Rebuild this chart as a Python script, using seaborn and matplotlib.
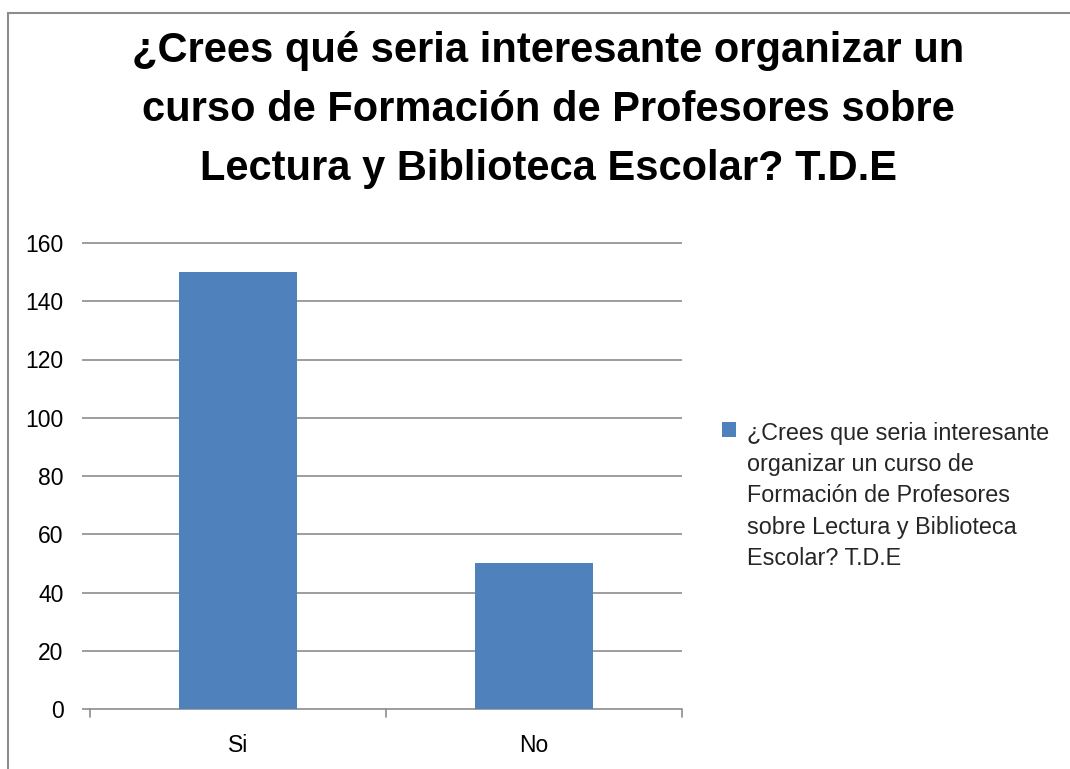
import matplotlib
matplotlib.use("Agg")
import matplotlib.pyplot as plt
import seaborn as sns
import pandas as pd
from matplotlib.patches import Rectangle, Patch

categories = ["Si", "No"]
values = [150, 50]
series_name = "¿Crees que seria interesante\norganizar un curso de\nFormación de Profesores\nsobre Lectura y Biblioteca\nEscolar? T.D.E"
title = "¿Crees qué seria interesante organizar un\ncurso de Formación de Profesores sobre\nLectura y Biblioteca Escolar? T.D.E"
yticks = [0, 20, 40, 60, 80, 100, 120, 140, 160]

sns.set_theme(style="white")
plt.rcParams['font.family'] = ['Liberation Sans', 'DejaVu Sans']

df = pd.DataFrame({"cat": categories, "val": values})

fig = plt.figure(figsize=(10.7, 7.69), dpi=100)
ax = fig.add_axes([90/1070, 1-709/769, (682-90)/1070, (709-243)/769])

color = "#4F81BD"
grid_c = "#8C8C8C"
sns.barplot(data=df, x="cat", y="val", ax=ax, color=color, width=0.4,
            saturation=1, edgecolor="none", zorder=3)

ax.set_ylim(0, 160)
ax.set_xlim(-0.5, 1.5)
ax.set_yticks(yticks)
ax.set_yticklabels([str(v) for v in yticks], fontsize=16.5, color="black")
ax.set_xticks([0, 1])
ax.set_xticklabels(categories, fontsize=16.5, color="black")
ax.set_xlabel("")
ax.set_ylabel("")
ax.grid(False)
for s in ["top", "right", "left", "bottom"]:
    ax.spines[s].set_visible(False)
ax.tick_params(axis="y", length=0, pad=19)
ax.tick_params(axis="x", length=0, pad=18)
# horizontal gridlines, extending slightly left of the plot area
ax.hlines(yticks, -0.527, 1.5, colors=grid_c, linewidth=1.2, clip_on=False, zorder=1)
# category boundary tick marks
for xb in [-0.5, 0.5, 1.5]:
    ax.plot([xb, xb], [0, -2.6], color=grid_c, lw=1.2, clip_on=False, zorder=1)

fig.text(548/1070, 1-110/769, title, ha="center", va="center", fontsize=30,
         fontweight="bold", linespacing=1.6, color="black")

handle = Patch(facecolor=color, edgecolor="none")
leg = fig.legend([handle], [series_name], loc="upper left",
                 bbox_to_anchor=(703/1070, 1-403/769), frameon=False,
                 fontsize=16.8, handlelength=0.62, handleheight=0.62,
                 handletextpad=0.45, borderpad=0.3)
for t in leg.get_texts():
    t.set_linespacing(1.46)
for col in leg._legend_handle_box.get_children():
    for item in col.get_children():
        item.align = "top"

fig.patches.append(Rectangle((8/1070, -0.1), 1.2, 1-13/769+0.1,
                             transform=fig.transFigure, fill=False,
                             edgecolor=grid_c, linewidth=1.5))

fig.savefig("out.png", dpi=100)
